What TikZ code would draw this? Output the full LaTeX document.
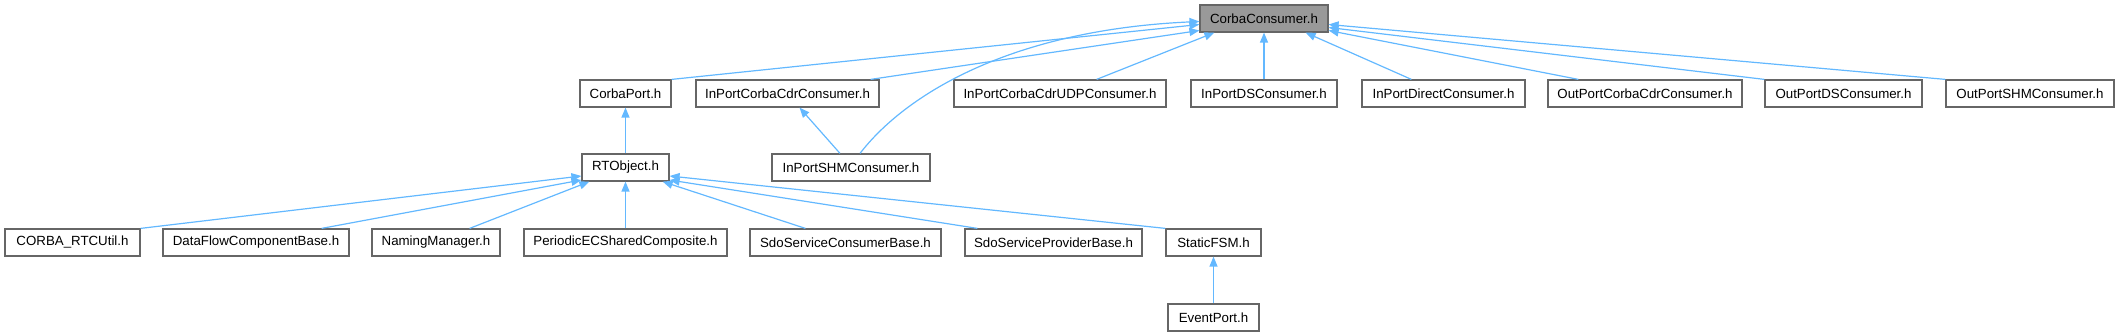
\documentclass[tikz,border=0pt]{standalone}
\usepackage{fontspec}
\setmainfont{Liberation Sans}
\usetikzlibrary{arrows.meta,calc}
\definecolor{edgeblue}{HTML}{63B8FF}
\definecolor{boxborder}{HTML}{666666}
\definecolor{rootfill}{HTML}{999999}
\tikzset{
  filebox/.style={draw=boxborder, line width=1.2pt, fill=white, minimum height=27pt, inner sep=0pt, font=\fontsize{13.3}{16}\selectfont, anchor=center},
  rootbox/.style={filebox, fill=rootfill},
  dep/.style={draw=edgeblue, line width=1.2pt, -{Triangle[length=10pt,width=8pt]}}
}
\begin{document}
\begin{tikzpicture}[x=1pt,y=-1pt]
\useasboundingbox (0,0) rectangle (2118,336);
% row 1
\node[rootbox, minimum width=128pt] (cc) at (1264,18.5) {CorbaConsumer.h};
% row 2
\node[filebox, minimum width=91pt] (cp) at (625.5,93.5) {CorbaPort.h};
\node[filebox, minimum width=183pt] (ipcdr) at (787.5,93.5) {InPortCorbaCdrConsumer.h};
\node[filebox, minimum width=212pt] (ipudp) at (1060,93.5) {InPortCorbaCdrUDPConsumer.h};
\node[filebox, minimum width=146pt] (ipds) at (1264,93.5) {InPortDSConsumer.h};
\node[filebox, minimum width=163pt] (ipdir) at (1443.5,93.5) {InPortDirectConsumer.h};
\node[filebox, minimum width=194pt] (opcdr) at (1645,93.5) {OutPortCorbaCdrConsumer.h};
\node[filebox, minimum width=157pt] (opds) at (1843.5,93.5) {OutPortDSConsumer.h};
\node[filebox, minimum width=168pt] (opshm) at (2030,93.5) {OutPortSHMConsumer.h};
% row 3
\node[filebox, minimum width=87pt] (rto) at (625.5,167.5) {RTObject.h};
\node[filebox, minimum width=158pt] (ipshm) at (851,167.5) {InPortSHMConsumer.h};
% row 4
\node[filebox, minimum width=135pt] (corba) at (72.5,242.5) {CORBA\_RTCUtil.h};
\node[filebox, minimum width=186pt] (dfc) at (256,242.5) {DataFlowComponentBase.h};
\node[filebox, minimum width=128pt] (nm) at (436,242.5) {NamingManager.h};
\node[filebox, minimum width=203pt] (pec) at (625.5,242.5) {PeriodicECSharedComposite.h};
\node[filebox, minimum width=191pt] (ssc) at (845.5,242.5) {SdoServiceConsumerBase.h};
\node[filebox, minimum width=177pt] (ssp) at (1053.5,242.5) {SdoServiceProviderBase.h};
\node[filebox, minimum width=95pt] (sfsm) at (1213.5,242.5) {StaticFSM.h};
% row 5
\node[filebox, minimum width=91pt] (ep) at (1213.5,317.5) {EventPort.h};
% edges to CorbaConsumer
\draw[dep] (cp.north east) -- ($(cc.west)+(0,6)$);
\draw[dep] ($(ipcdr.north east)+(-9,0)$) -- ($(cc.west)+(0,12)$);
\draw[dep] ($(ipshm.north)+(9,0)$) .. controls (905,95) and (1010,30) .. ($(cc.west)+(0,3)$);
\draw[dep] ($(ipudp.north east)+(-70,0)$) -- ($(cc.south west)+(15,0)$);
\draw[dep] (ipds.north) -- (cc.south);
\draw[dep] ($(ipdir.north west)+(50,0)$) -- ($(cc.south east)+(-23,0)$);
\draw[dep] ($(opcdr.north west)+(31,0)$) -- ($(cc.east)+(0,12)$);
\draw[dep] (opds.north west) -- ($(cc.east)+(0,9)$);
\draw[dep] (opshm.north west) -- ($(cc.east)+(0,6)$);
% InPortSHMConsumer -> InPortCorbaCdrConsumer
\draw[dep] ($(ipshm.north)+(-11,0)$) -- ($(ipcdr.south)+(12,0)$);
% RTObject -> CorbaPort
\draw[dep] (rto.north) -- (cp.south);
% row 4 -> RTObject
\draw[dep] (corba.north east) -- ($(rto.west)+(0,8.5)$);
\draw[dep] ($(dfc.north east)+(-28,0)$) -- ($(rto.west)+(0,12.5)$);
\draw[dep] ($(nm.north east)+(-31,0)$) -- ($(rto.south west)+(8,0)$);
\draw[dep] (pec.north) -- (rto.south);
\draw[dep] ($(ssc.north west)+(56,0)$) -- ($(rto.south east)+(-7,0)$);
\draw[dep] ($(ssp.north west)+(13,0)$) -- ($(rto.east)+(0,12.5)$);
\draw[dep] (sfsm.north west) -- ($(rto.east)+(0,8.5)$);
% EventPort -> StaticFSM
\draw[dep] (ep.north) -- (sfsm.south);
\end{tikzpicture}
\end{document}
